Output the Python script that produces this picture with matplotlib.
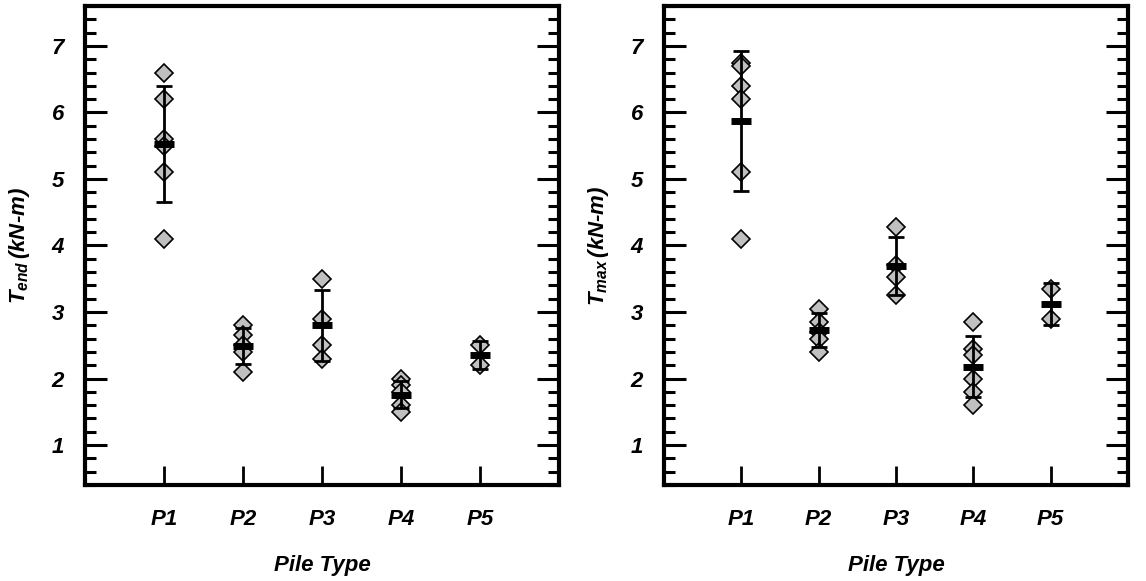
import matplotlib.pyplot as plt
from matplotlib.ticker import MultipleLocator

plt.rcParams['font.family'] = 'Liberation Sans'
plt.rcParams['font.weight'] = 'bold'
plt.rcParams['font.style'] = 'italic'
plt.rcParams['axes.labelweight'] = 'bold'
plt.rcParams['mathtext.fontset'] = 'custom'
plt.rcParams['mathtext.it'] = 'Liberation Sans:bold:italic'
plt.rcParams['mathtext.rm'] = 'Liberation Sans:bold:italic'

piles = ['P1', 'P2', 'P3', 'P4', 'P5']

# measured torque values per pile (kN-m)
t_end = [
    [6.6, 6.2, 5.6, 5.5, 5.1, 4.1],
    [2.8, 2.65, 2.5, 2.4, 2.1],
    [3.5, 2.9, 2.5, 2.3],
    [2.0, 1.9, 1.8, 1.6, 1.5],
    [2.5, 2.2],
]
t_end_mean = [5.52, 2.49, 2.80, 1.76, 2.35]
t_end_sd = [0.87, 0.27, 0.53, 0.21, 0.21]

t_max = [
    [6.75, 6.7, 6.4, 6.2, 5.1, 4.1],
    [3.05, 2.85, 2.7, 2.6, 2.4],
    [4.28, 3.7, 3.52, 3.25],
    [2.85, 2.45, 2.35, 2.0, 1.8, 1.6],
    [3.35, 2.9],
]
t_max_mean = [5.87, 2.73, 3.69, 2.18, 3.12]
t_max_sd = [1.05, 0.25, 0.44, 0.46, 0.32]

fig = plt.figure(figsize=(11.46, 5.81), dpi=100)
ax1 = fig.add_axes([85/1146, 96/581, 474/1146, 479/581])
ax2 = fig.add_axes([664/1146, 96/581, 464/1146, 479/581])


def draw(ax, vals, means, sds, ylabel):
    for i, v in enumerate(vals):
        ax.plot([i + 1] * len(v), v, 'D', ms=9.5, mfc='#c0c0c0', mec='black',
                mew=1.2, zorder=2)
    xs = range(1, len(piles) + 1)
    ax.errorbar(xs, means, yerr=sds, fmt='none', ecolor='black', elinewidth=2,
                capsize=6, capthick=2, zorder=3)
    ax.plot(xs, means, '_', color='black', ms=14, mew=5, zorder=4)

    ax.set_xlim(0, 6)
    ax.set_ylim(0.4, 7.6)
    ax.set_xticks(list(xs))
    ax.set_xticklabels(piles)
    ax.yaxis.set_major_locator(MultipleLocator(1))
    ax.yaxis.set_minor_locator(MultipleLocator(0.2))
    ax.tick_params(axis='y', which='major', direction='in', length=16, width=2.2,
                   left=True, right=True, labelsize=16, pad=15)
    ax.tick_params(axis='y', which='minor', direction='in', length=8, width=2.2,
                   left=True, right=True)
    ax.tick_params(axis='x', which='major', direction='in', length=14, width=2,
                   bottom=True, top=False, labelsize=16, pad=17)
    for s in ax.spines.values():
        s.set_linewidth(3)
    ax.set_xlabel('Pile Type', fontsize=16, labelpad=18)
    ax.set_ylabel(ylabel, fontsize=16, labelpad=14)


draw(ax1, t_end, t_end_mean, t_end_sd, r'$T_{end}\,$(kN-m)')
draw(ax2, t_max, t_max_mean, t_max_sd, r'$T_{max}\,$(kN-m)')

fig.savefig('out.png', dpi=100)
